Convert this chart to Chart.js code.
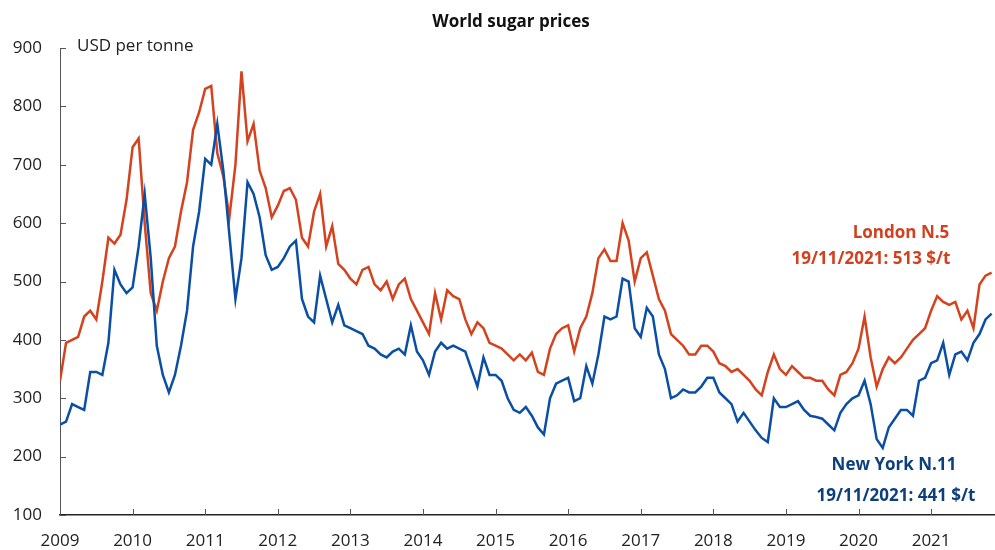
<!DOCTYPE html>
<html>
<head>
<meta charset="utf-8">
<script src="https://cdn.jsdelivr.net/npm/chart.js@4.4.1/dist/chart.umd.min.js"></script>
<style>
  html, body { margin: 0; padding: 0; background: #fff; }
  #wrap { width: 995px; height: 550px; position: relative; }
</style>
</head>
<body>
<div id="wrap"><canvas id="chart" width="995" height="550"></canvas></div>
<script>
// monthly readings, Jan 2009 .. Nov 2021 (USD per tonne)
const startYear = 2009;
const yearTicks = [2009, 2010, 2011, 2012, 2013, 2014, 2015, 2016, 2017, 2018, 2019, 2020, 2021];

const london = [
  330, 395, 400, 405, 440, 450, 435, 500, 575, 565, 580, 640, // 2009
  730, 745, 600, 480, 450, 500, 540, 560, 620, 670, 760, 790, // 2010
  830, 835, 720, 680, 610, 700, 860, 740, 770, 690, 660, 610, // 2011
  630, 655, 660, 640, 575, 560, 620, 650, 560, 595, 530, 520, // 2012
  505, 495, 520, 525, 495, 485, 500, 470, 495, 505, 470, 450, // 2013
  430, 410, 480, 435, 485, 475, 470, 435, 410, 430, 420, 395, // 2014
  390, 385, 375, 365, 375, 365, 378, 345, 340, 385, 410, 420, // 2015
  425, 380, 420, 440, 480, 540, 555, 535, 535, 600, 570, 500, // 2016
  540, 550, 510, 470, 450, 410, 400, 390, 375, 375, 390, 390, // 2017
  380, 360, 355, 345, 350, 340, 330, 315, 305, 345, 375, 350, // 2018
  340, 355, 345, 335, 335, 330, 330, 315, 305, 340, 345, 360, // 2019
  385, 440, 370, 320, 350, 370, 360, 370, 385, 400, 410, 420, // 2020
  450, 475, 465, 460, 465, 435, 450, 420, 495, 510, 515       // 2021
];

const newYork = [
  255, 260, 290, 285, 280, 345, 345, 340, 395, 520, 495, 480, // 2009
  490, 560, 650, 540, 390, 340, 310, 340, 390, 450, 560, 620, // 2010
  710, 700, 770, 690, 580, 470, 540, 670, 650, 610, 545, 520, // 2011
  525, 540, 560, 570, 470, 440, 430, 510, 470, 430, 460, 425, // 2012
  420, 415, 410, 390, 385, 375, 370, 380, 385, 375, 425, 380, // 2013
  365, 340, 380, 395, 385, 390, 385, 380, 350, 320, 370, 340, // 2014
  340, 330, 300, 280, 275, 285, 270, 250, 238, 300, 325, 330, // 2015
  335, 295, 300, 355, 325, 375, 440, 435, 440, 505, 500, 420, // 2016
  405, 455, 440, 375, 350, 300, 305, 315, 310, 310, 320, 335, // 2017
  335, 310, 300, 290, 260, 275, 260, 245, 232, 225, 300, 285, // 2018
  285, 290, 295, 280, 270, 268, 265, 255, 245, 275, 290, 300, // 2019
  305, 330, 290, 230, 215, 250, 265, 280, 280, 270, 330, 335, // 2020
  360, 365, 395, 340, 375, 380, 365, 395, 410, 435, 445       // 2021
];

const toPoints = arr => arr.map((v, i) => ({ x: startYear + i / 12, y: v }));

const FONT = "'Open Sans', 'Noto Sans', sans-serif";

// axis ticks are drawn pointing into the plot area
const innerTicks = {
  id: 'innerTicks',
  afterDraw(chart) {
    const { ctx, chartArea, scales } = chart;
    ctx.save();
    ctx.strokeStyle = '#555';
    ctx.lineWidth = 1;
    scales.y.ticks.forEach(t => {
      const y = Math.round(scales.y.getPixelForValue(t.value)) + 0.5;
      ctx.beginPath();
      ctx.moveTo(chartArea.left, y);
      ctx.lineTo(chartArea.left + 6, y);
      ctx.stroke();
    });
    yearTicks.forEach(v => {
      const x = Math.round(scales.x.getPixelForValue(v)) + 0.5;
      ctx.beginPath();
      ctx.moveTo(x, chartArea.bottom);
      ctx.lineTo(x, chartArea.bottom - 6);
      ctx.stroke();
    });
    ctx.restore();
  }
};

const labels = {
  id: 'labels',
  afterDraw(chart) {
    const ctx = chart.ctx;
    ctx.save();
    ctx.textBaseline = 'middle';
    ctx.textAlign = 'center';
    ctx.fillStyle = '#111';
    ctx.font = "bold 17px " + FONT;
    ctx.fillText('World sugar prices', 511, 22);

    ctx.textAlign = 'left';
    ctx.font = "17px " + FONT;
    ctx.fillStyle = '#222';
    ctx.fillText('USD per tonne', 77, 46);

    ctx.textAlign = 'center';
    ctx.font = "bold 17px " + FONT;
    ctx.fillStyle = '#d2401e';
    ctx.fillText('London N.5', 901, 233);
    ctx.fillText('19/11/2021: 513 $/t', 871, 259);

    ctx.fillStyle = '#0d3f7d';
    ctx.fillText('New York N.11', 894, 465);
    ctx.fillText('19/11/2021: 441 $/t', 896, 496);
    ctx.restore();
  }
};

new Chart(document.getElementById('chart'), {
  type: 'line',
  data: {
    datasets: [
      {
        label: 'New York N.11',
        data: toPoints(newYork),
        borderColor: '#0a4fa3',
        borderWidth: 2.5,
        pointRadius: 0,
        tension: 0
      },
      {
        label: 'London N.5',
        data: toPoints(london),
        borderColor: '#d4421e',
        borderWidth: 2.5,
        pointRadius: 0,
        tension: 0
      }
    ]
  },
  options: {
    responsive: false,
    animation: false,
    layout: { padding: { top: 48, left: 0, right: 0, bottom: 0 } },
    plugins: {
      legend: { display: false },
      title: { display: false },
      tooltip: { enabled: false }
    },
    scales: {
      x: {
        type: 'linear',
        min: 2009,
        max: 2021.88,
        afterFit: s => { s.height = 35; },
        grid: { drawOnChartArea: false, drawTicks: false },
        border: { color: '#222', width: 1.5 },
        ticks: {
          stepSize: 1,
          includeBounds: false,
          padding: 16,
          maxRotation: 0,
          autoSkip: false,
          color: '#222',
          font: { family: FONT, size: 17 },
          callback: v => Number.isInteger(v) ? String(v) : ''
        }
      },
      y: {
        min: 100,
        max: 900,
        afterFit: s => { s.width = 60; },
        grid: { drawOnChartArea: false, drawTicks: false },
        border: { color: '#555', width: 1 },
        ticks: {
          stepSize: 100,
          padding: 18,
          color: '#222',
          font: { family: FONT, size: 17 }
        }
      }
    }
  },
  plugins: [innerTicks, labels]
});
</script>
</body>
</html>
